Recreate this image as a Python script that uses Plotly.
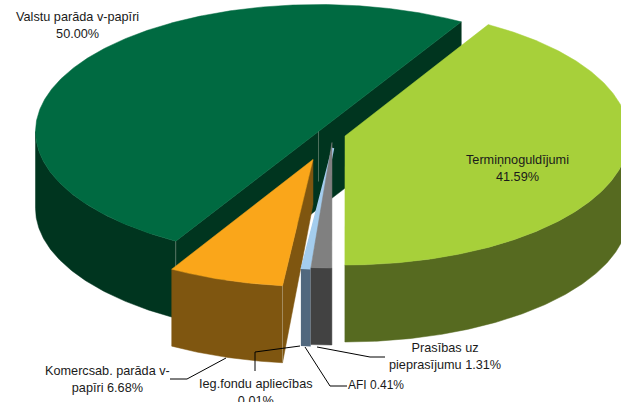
import math
import plotly.graph_objects as go

categories = ["Termiņnoguldījumi", "Prasības uz pieprasījumu", "AFI", "Ieg.fondu apliecības",
              "Komercsab. parāda v-papīri", "Valstu parāda v-papīri"]
values = [41.59, 1.31, 0.41, 0.01, 6.68, 50.00]

top_colors = ["#a7d03a", "#808080", "#a4cdee", "#4f81bd", "#faa61a", "#006a41"]
wall_colors = ["#566a20", "#424242", "#51687e", "#51687e", "#7f5610", "#00351f"]
# exploded centre of every slice, and projected radii
centres = [(345, 136), (332, 142.5), (333, 148), (333, 148), (313, 159.5), (318.5, 131.5)]
radii = [(284, 129), (255, 125.5), (285, 120.5), (285, 120.5), (280, 127), (283, 127)]
stroke = [0.5, 0.5, 2.5, 0.5, 0.5, 0.5]
DEPTH = 77
START = 30.3

labels = [
    ("Termiņnoguldījumi<br>41.59%", 517, 168.5, 12.7),
    ("Prasības uz<br>pieprasījumu 1.31%", 445, 356, 12.7),
    ("AFI 0.41%", 376, 385, 12),
    ("Ieg.fondu apliecības<br>0.01%", 256, 392, 12.7),
    ("Komercsab. parāda v-<br>papīri 6.68%", 107, 379, 12.7),
    ("Valstu parāda v-papīri<br>50.00%", 77, 25, 12.7),
]
leaders = [
    [(170, 379), (187, 379), (226, 358)],
    [(255, 371), (255, 352), (300, 346)],
    [(347, 386), (330, 386), (305, 347)],
    [(317, 347), (370, 357), (385, 357)],
]

angles = []
a = START
for v in values:
    angles.append((a, a + v * 3.6))
    a += v * 3.6


def pt(i, deg, dz=0):
    cx, cy = centres[i]
    rx, ry = radii[i]
    t = math.radians(deg)
    return cx + rx * math.sin(t), cy - ry * math.cos(t) + dz


def sweep(a0, a1):
    n = max(2, int(abs(a1 - a0) * 2))
    return [a0 + (a1 - a0) * k / n for k in range(n + 1)]


fig = go.Figure()


def poly(points, color, width=0.5):
    xs = [p[0] for p in points] + [points[0][0]]
    ys = [p[1] for p in points] + [points[0][1]]
    fig.add_trace(go.Scatter(x=xs, y=ys, mode="lines", fill="toself", fillcolor=color,
                             line=dict(width=width, color=color), hoverinfo="skip", showlegend=False))


def edge(points):
    fig.add_trace(go.Scatter(x=[p[0] for p in points], y=[p[1] for p in points], mode="lines",
                             line=dict(width=0.6, color="rgba(215,215,205,0.6)"),
                             hoverinfo="skip", showlegend=False))


def outer_wall(i):
    a0, a1 = angles[i]
    # only the part facing the viewer (90 to 270 degrees from the top)
    lo, hi = max(a0, 90), min(a1, 270)
    if hi <= lo:
        return
    s = sweep(lo, hi)
    poly([pt(i, d) for d in s] + [pt(i, d, DEPTH) for d in reversed(s)], wall_colors[i], stroke[i])


def top(i):
    a0, a1 = angles[i]
    poly([centres[i]] + [pt(i, d) for d in sweep(a0, a1)], top_colors[i], stroke[i])


# Valstu parāda v-papīri
g = 5
outer_wall(g)
p0, p1 = pt(g, angles[g][0]), pt(g, angles[g][1])
poly([p0, p1, (p1[0], p1[1] + DEPTH), (p0[0], p0[1] + DEPTH)], wall_colors[g])
top(g)
edge([p0, (p0[0], p0[1] + 30)])
edge([centres[g], (centres[g][0], centres[g][1] + 50)])

# Komercsab. parāda v-papīri
k = 4
c = centres[k]
p = pt(k, angles[k][0])
poly([c, p, (p[0], p[1] + DEPTH), (c[0], c[1] + 45)], wall_colors[k])
outer_wall(k)
top(k)
edge([p, (p[0], p[1] + DEPTH)])

# small slices
for i in (3, 2, 1):
    outer_wall(i)
    top(i)

# Termiņnoguldījumi
outer_wall(0)
top(0)

for line in leaders:
    fig.add_trace(go.Scatter(x=[p[0] for p in line], y=[p[1] for p in line], mode="lines",
                             line=dict(width=1, color="#000000"), hoverinfo="skip", showlegend=False))

for text, x, y, size in labels:
    fig.add_annotation(x=x, y=y, text=text, showarrow=False, xanchor="center", yanchor="middle",
                       align="center", font=dict(family="Liberation Sans", size=size, color="#1a1a1a"))

fig.update_layout(
    width=621, height=402, margin=dict(l=0, r=0, t=0, b=0),
    paper_bgcolor="white", plot_bgcolor="white", showlegend=False,
    xaxis=dict(range=[0, 621], visible=False, fixedrange=True),
    yaxis=dict(range=[402, 0], visible=False, fixedrange=True),
)
fig.write_html("out.html", config={"displayModeBar": False},
               post_script="document.body.style.margin='0';document.body.style.overflow='hidden';")
